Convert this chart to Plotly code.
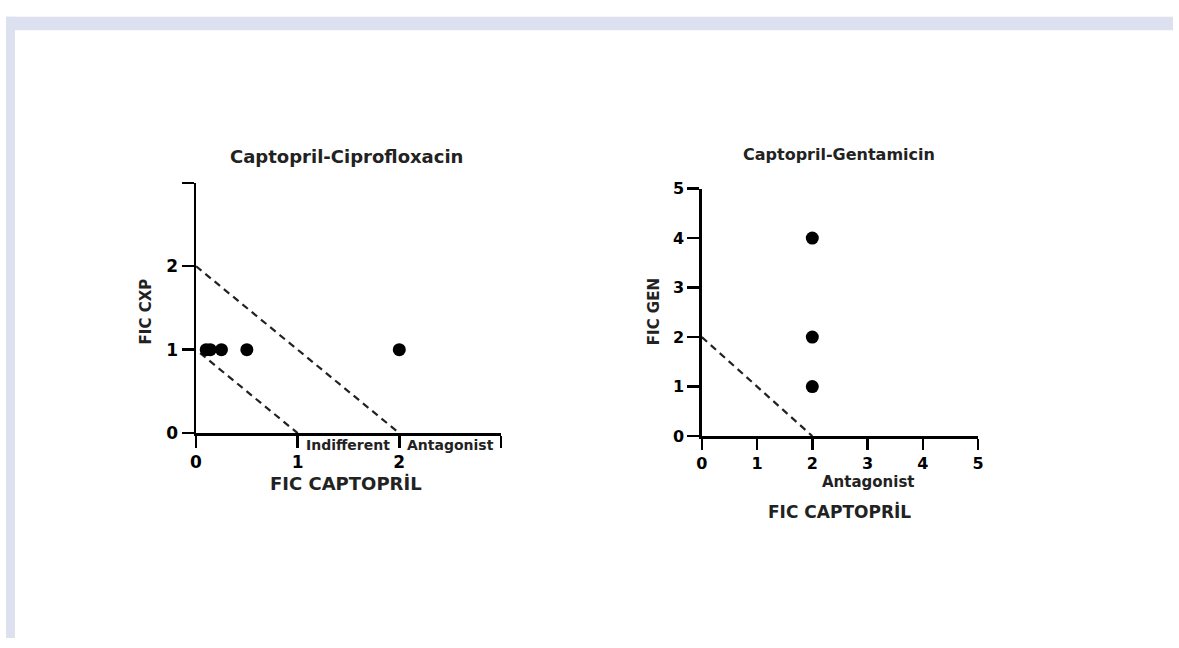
import plotly.graph_objects as go

W, H = 1179, 648

# ---- data ----
cxp_fic_captopril = [0.1, 0.14, 0.25, 0.5, 2.0]
cxp_fic = [1, 1, 1, 1, 1]
cxp_line_outer_x = [0, 2]
cxp_line_outer_y = [2, 0]
cxp_line_inner_x = [0.04, 1]
cxp_line_inner_y = [0.96, 0]
cxp_ticks = [0, 1, 2, 3]
cxp_ticktext = ["0", "1", "2", ""]

gen_fic_captopril = [2, 2, 2]
gen_fic = [1, 2, 4]
gen_line_x = [0, 2]
gen_line_y = [2, 0]
gen_ticks = [0, 1, 2, 3, 4, 5]
gen_ticktext = ["0", "1", "2", "3", "4", "5"]

FONT = "DejaVu Sans"


def px(x):
    return x / W


def py(y):
    return 1 - y / H


fig = go.Figure()

dash = "7px,5px"
fig.add_trace(go.Scatter(x=cxp_line_outer_x, y=cxp_line_outer_y, mode="lines",
                         line=dict(color="#222", width=2.2, dash=dash), xaxis="x", yaxis="y"))
fig.add_trace(go.Scatter(x=cxp_line_inner_x, y=cxp_line_inner_y, mode="lines",
                         line=dict(color="#222", width=2.2, dash=dash), xaxis="x", yaxis="y"))
fig.add_trace(go.Scatter(x=cxp_fic_captopril, y=cxp_fic, mode="markers",
                         marker=dict(color="black", size=13), xaxis="x", yaxis="y", cliponaxis=False))

fig.add_trace(go.Scatter(x=gen_line_x, y=gen_line_y, mode="lines",
                         line=dict(color="#222", width=2.2, dash=dash), xaxis="x2", yaxis="y2"))
fig.add_trace(go.Scatter(x=gen_fic_captopril, y=gen_fic, mode="markers",
                         marker=dict(color="black", size=13), xaxis="x2", yaxis="y2", cliponaxis=False))

axis_common = dict(showgrid=False, zeroline=False, showline=True, linecolor="black",
                   linewidth=2.5, ticks="outside", tickwidth=2.5, tickcolor="black",
                   fixedrange=True)

fig.update_layout(
    width=W, height=H,
    margin=dict(l=0, r=0, t=0, b=0),
    paper_bgcolor="white", plot_bgcolor="rgba(0,0,0,0)",
    showlegend=False, hovermode=False,
    xaxis=dict(domain=[px(192), px(500)], range=[0, 3], anchor="y",
               tickvals=cxp_ticks, ticktext=cxp_ticktext, ticklen=12,
               tickfont=dict(family=FONT, size=17, color="black", weight="bold"),
               **axis_common),
    yaxis=dict(domain=[py(437), py(179)], range=[0, 3], anchor="x",
               tickvals=cxp_ticks, ticktext=cxp_ticktext, ticklen=12,
               tickfont=dict(family=FONT, size=17, color="black", weight="bold"),
               **axis_common),
    xaxis2=dict(domain=[px(703), px(982)], range=[0, 5], anchor="y2",
                tickvals=gen_ticks, ticktext=gen_ticktext, ticklen=11,
                tickfont=dict(family=FONT, size=16, color="black", weight="bold"),
                **axis_common),
    yaxis2=dict(domain=[py(440), py(185)], range=[0, 5], anchor="x2",
                tickvals=gen_ticks, ticktext=gen_ticktext, ticklen=12,
                tickfont=dict(family=FONT, size=16, color="black", weight="bold"),
                **axis_common),
)

# background frame band
fig.add_shape(type="rect", xref="paper", yref="paper", x0=0, x1=1, y0=py(22), y1=py(8),
              fillcolor="#dde0ee", line=dict(width=0), layer="below")
fig.add_shape(type="rect", xref="paper", yref="paper", x0=0, x1=px(9), y0=0, y1=py(8),
              fillcolor="#dde0ee", line=dict(width=0), layer="below")


def text(x, y, s, size, angle=0, weight="bold"):
    fig.add_annotation(x=px(x), y=py(y), xref="paper", yref="paper", text=s,
                       showarrow=False, textangle=angle, xanchor="center", yanchor="middle",
                       font=dict(family=FONT, size=size, color="#222", weight=weight))


# left chart texts
text(344, 152, "Captopril-Ciprofloxacin", 18)
text(344, 489, "FIC CAPTOPRİL", 18)
text(141, 312, "FIC CXP", 15, angle=-90)
fig.add_annotation(x=1.5, y=py(437), xref="x", yref="paper", text="Indifferent",
                   showarrow=False, xanchor="center", yanchor="top", yshift=-2,
                   font=dict(family=FONT, size=14, color="#222", weight="bold"))
fig.add_annotation(x=2.5, y=py(437), xref="x", yref="paper", text="Antagonist",
                   showarrow=False, xanchor="center", yanchor="top", yshift=-2,
                   font=dict(family=FONT, size=14, color="#222", weight="bold"))

# right chart texts
text(842, 150, "Captopril-Gentamicin", 16)
text(842, 518, "FIC CAPTOPRİL", 17)
text(655, 312, "FIC GEN", 15, angle=-90)
fig.add_annotation(x=3.02, y=py(487), xref="x2", yref="paper", text="Antagonist",
                   showarrow=False, xanchor="center", yanchor="middle",
                   font=dict(family=FONT, size=15, color="#222", weight="bold"))

fig.write_html(
    "out.html",
    config={"displayModeBar": False, "staticPlot": True},
    post_script="document.body.style.margin='0';document.body.style.overflow='hidden';",
)
